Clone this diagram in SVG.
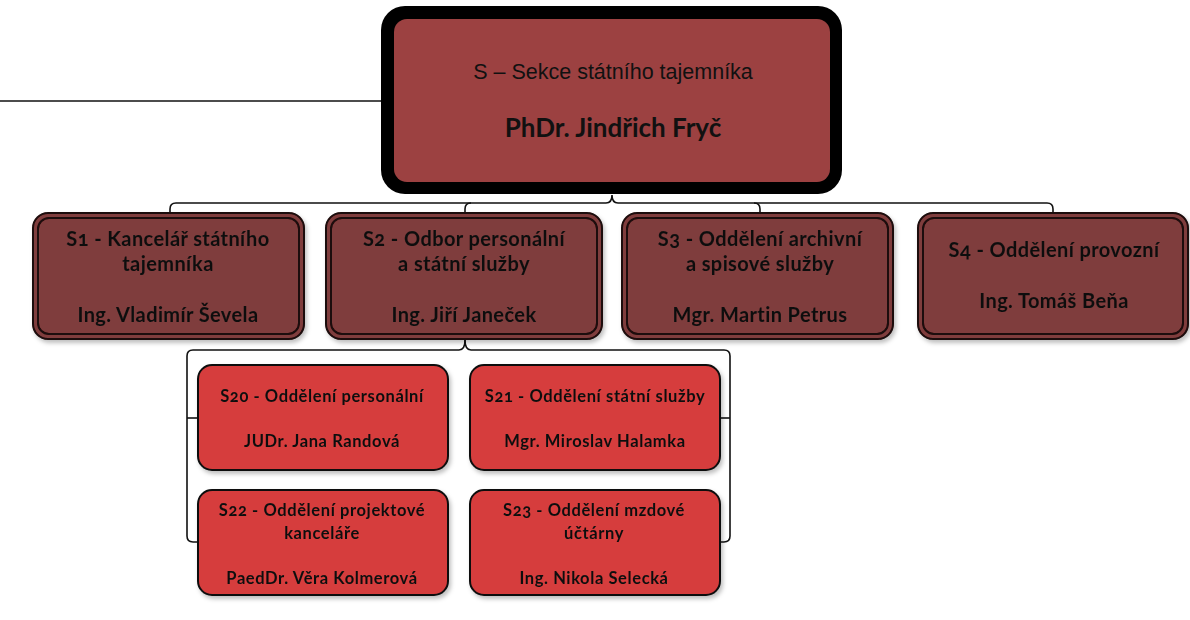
<svg xmlns="http://www.w3.org/2000/svg" width="1190" height="620" viewBox="0 0 1190 620">
<style>
.t1{font-family:"Liberation Sans",Arial,sans-serif;font-size:21.5px;fill:#111;text-anchor:middle}
.tb{font-family:Lato,"Open Sans",sans-serif;font-weight:bold;fill:#111;text-anchor:middle;font-feature-settings:"onum"}
.l2{font-size:20px;letter-spacing:0.4px}
.l3{font-size:16.5px;letter-spacing:0.6px}
.b2o{fill:#7f3c3c;stroke:#1a0808;stroke-width:2}
.b2i{fill:none;stroke:#1a0808;stroke-width:2}
.b3{fill:#d63c3c;stroke:#111;stroke-width:2}
.con{fill:none;stroke:#111;stroke-width:1.6}
</style>
<defs>
<filter id="sh" x="-10%" y="-10%" width="125%" height="130%">
<feDropShadow dx="2" dy="3" stdDeviation="2" flood-color="#000" flood-opacity="0.25"/>
</filter>
</defs>
<rect width="1190" height="620" fill="#fff"/>
<g id="connectors">
<path class="con" d="M0,101 H382"/>
<path class="con" d="M170,214 V209 Q170,203 176,203 H606 Q612,203 612,195 Q612,203 618,203 H1047 Q1053,203 1053,209 V214"/>
<path class="con" d="M465,214 V209 Q465,203 471,203"/>
<path class="con" d="M760,214 V209 Q760,203 754,203"/>
<path class="con" d="M465,340 Q465,350 459,350 H193 Q187,350 187,356 V536 Q187,542 193,542 H198"/>
<path class="con" d="M465,340 Q465,350 471,350 H724 Q730,350 730,356 V536 Q730,542 724,542 H719"/>
<path class="con" d="M187,418 H198"/>
<path class="con" d="M730,418 H719"/>
</g>
<g id="node-S">
<rect x="381" y="6" width="461" height="188" rx="24" fill="#000"/>
<rect x="394" y="19" width="436" height="163" rx="13" fill="#9c4141"/>
<text class="t1" x="613" y="79">S – Sekce státního tajemníka</text>
<text class="tb" x="613" y="137" font-size="26">PhDr. Jindřich Fryč</text>
</g>
<g id="node-S1" filter="url(#sh)">
<rect class="b2o" x="33" y="213" width="271" height="126" rx="15"/>
<rect class="b2i" x="38" y="218" width="261" height="116" rx="11"/>
<text class="tb l2" x="168" y="246">S1 - Kancelář státního</text>
<text class="tb l2" x="168" y="271">tajemníka</text>
<text class="tb l2" x="168" y="322">Ing. Vladimír Ševela</text>
</g>
<g id="node-S2" filter="url(#sh)">
<rect class="b2o" x="326" y="213" width="276" height="126" rx="15"/>
<rect class="b2i" x="331" y="218" width="266" height="116" rx="11"/>
<text class="tb l2" x="464" y="246">S2 - Odbor personální</text>
<text class="tb l2" x="464" y="271">a státní služby</text>
<text class="tb l2" x="464" y="322">Ing. Jiří Janeček</text>
</g>
<g id="node-S3" filter="url(#sh)">
<rect class="b2o" x="622" y="213" width="271" height="126" rx="15"/>
<rect class="b2i" x="627" y="218" width="261" height="116" rx="11"/>
<text class="tb l2" x="760" y="246">S3 - Oddělení archivní</text>
<text class="tb l2" x="760" y="271">a spisové služby</text>
<text class="tb l2" x="760" y="322">Mgr. Martin Petrus</text>
</g>
<g id="node-S4" filter="url(#sh)">
<rect class="b2o" x="918" y="213" width="270" height="126" rx="15"/>
<rect class="b2i" x="923" y="218" width="260" height="116" rx="11"/>
<text class="tb l2" x="1054" y="257">S4 - Oddělení provozní</text>
<text class="tb l2" x="1054" y="308">Ing. Tomáš Beňa</text>
</g>
<g id="node-S20" filter="url(#sh)">
<rect class="b3" x="198" y="365" width="250" height="105" rx="14"/>
<text class="tb l3" x="322" y="402">S20 - Oddělení personální</text>
<text class="tb l3" x="322" y="447">JUDr. Jana Randová</text>
</g>
<g id="node-S21" filter="url(#sh)">
<rect class="b3" x="470" y="365" width="250" height="105" rx="14"/>
<text class="tb l3" x="595" y="402">S21 - Oddělení státní služby</text>
<text class="tb l3" x="595" y="447">Mgr. Miroslav Halamka</text>
</g>
<g id="node-S22" filter="url(#sh)">
<rect class="b3" x="198" y="490" width="250" height="105" rx="14"/>
<text class="tb l3" x="322" y="516">S22 - Oddělení projektové</text>
<text class="tb l3" x="322" y="539">kanceláře</text>
<text class="tb l3" x="322" y="584">PaedDr. Věra Kolmerová</text>
</g>
<g id="node-S23" filter="url(#sh)">
<rect class="b3" x="470" y="490" width="250" height="105" rx="14"/>
<text class="tb l3" x="594" y="516">S23 - Oddělení mzdové</text>
<text class="tb l3" x="594" y="539">účtárny</text>
<text class="tb l3" x="594" y="584">Ing. Nikola Selecká</text>
</g>
</svg>
